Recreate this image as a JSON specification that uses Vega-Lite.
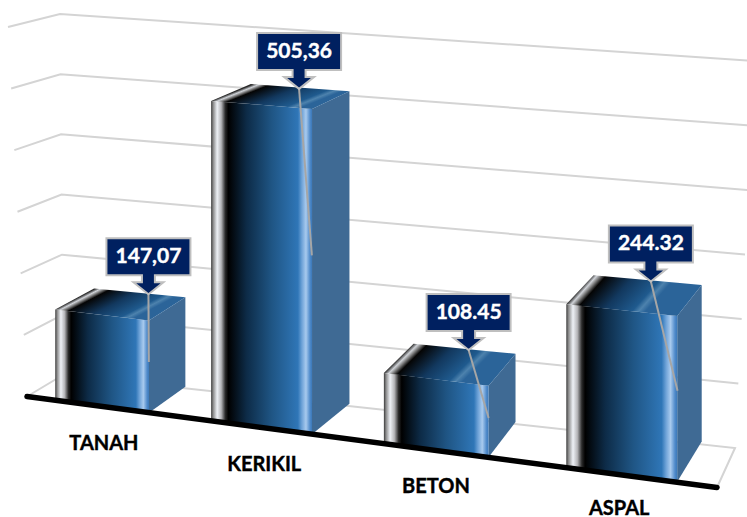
{
"$schema":"https://vega.github.io/schema/vega-lite/v6.json",
"width":747,"height":517,"padding":0,"autosize":{"type":"none"},"background":"white",
"config":{"view":{"stroke":null}},
"datasets":{
"bars":[
{"jenis":"TANAH","o":0,"value":147.07,"label":"147,07"},
{"jenis":"KERIKIL","o":1,"value":505.36,"label":"505,36"},
{"jenis":"BETON","o":2,"value":108.45,"label":"108.45"},
{"jenis":"ASPAL","o":3,"value":244.32,"label":"244.32"}],
"levels":[{"level":0},{"level":100},{"level":200},{"level":300},{"level":400},{"level":500},{"level":600}]
},
"encoding":{
"x":{"field":"px","type":"quantitative","scale":{"domain":[0,747],"nice":false,"zero":false},"axis":null},
"y":{"field":"py","type":"quantitative","scale":{"domain":[517,0],"nice":false,"zero":false},"axis":null}
},
"layer":[
{"data":{"name":"levels"},
 "transform":[
 {"calculate":"datum.level/600","as":"v"},
 {"calculate":"[0,1,2,3]","as":"w"},
 {"flatten":["w"]},
 {"filter":"datum.w<3||datum.level==0"},
 {"calculate":"[27-19*datum.v,63-3*datum.v,735+20*datum.v,717][datum.w]","as":"px"},
 {"calculate":"[396.5-369.5*datum.v,375-361*datum.v,448-387*datum.v,487.5][datum.w]","as":"py"}],
 "mark":{"type":"line","stroke":"#d4d4d4","strokeWidth":2,"clip":true},
 "encoding":{"detail":{"field":"level"},"order":{"field":"w"}}
},
{"data":{"name":"bars"},
 "transform":[
 {"calculate":"0.044+0.22*datum.o+0.0083*datum.o*datum.o","as":"u0"},
 {"calculate":"datum.u0+0.135+0.008*datum.o","as":"u1"},
 {"calculate":"datum.value/600","as":"v"},
 {"calculate":"27-19*datum.v+(690+37*datum.v)*datum.u0","as":"fx0"},
 {"calculate":"27-19*datum.v+(690+37*datum.v)*datum.u1","as":"fx1"},
 {"calculate":"396.5-369.5*datum.v+(91-40*datum.v)*datum.u0","as":"fy0"},
 {"calculate":"396.5-369.5*datum.v+(91-40*datum.v)*datum.u1","as":"fy1"},
 {"calculate":"datum.fx0+(63-3*datum.v+(672+23*datum.v)*datum.u0-datum.fx0)*1.05","as":"bx0"},
 {"calculate":"datum.fx1+(63-3*datum.v+(672+23*datum.v)*datum.u1-datum.fx1)*1.05","as":"bx1"},
 {"calculate":"datum.fy0+(375-361*datum.v+(73-26*datum.v)*datum.u0-datum.fy0)*1.05","as":"by0"},
 {"calculate":"datum.fy1+(375-361*datum.v+(73-26*datum.v)*datum.u1-datum.fy1)*1.05","as":"by1"},
 {"calculate":"27+690*datum.u0","as":"gx0"},
 {"calculate":"27+690*datum.u1","as":"gx1"},
 {"calculate":"396.5+91*datum.u0","as":"gy0"},
 {"calculate":"396.5+91*datum.u1","as":"gy1"},
 {"calculate":"datum.gx1+(63+672*datum.u1-datum.gx1)*1.05","as":"hx1"},
 {"calculate":"datum.gy1+(375+73*datum.u1-datum.gy1)*1.05","as":"hy1"},
 {"calculate":"datum.bx0+(datum.bx1-datum.bx0)*0.53+[6,-4,1,0][datum.o]","as":"tx"},
 {"calculate":"datum.by0+(datum.by1-datum.by0)*0.53+1","as":"ty"},
 {"calculate":"27-10.45*datum.v+(690+20.35*datum.v)*datum.u1","as":"lx"},
 {"calculate":"396.5-203.2*datum.v+(91-22*datum.v)*datum.u1","as":"ly"},
 {"calculate":"(datum.fx0+datum.gx0)/2","as":"fx0"},
 {"calculate":"(datum.fx1+datum.gx1)/2","as":"fx1"}
 ],
 "layer":[
 {"transform":[
  {"calculate":"[0,1]","as":"t"},{"flatten":["t"]},
  {"calculate":"[datum.fx1,datum.bx1][datum.t]","as":"px"},
  {"calculate":"[datum.fy1,datum.by1][datum.t]","as":"py"},
  {"calculate":"[datum.gy1,datum.hy1][datum.t]","as":"py2"}],
  "mark":{"type":"area","orient":"vertical","fill":"#3f6a94"},
  "encoding":{"y2":{"field":"py2"},"detail":{"field":"jenis"}}
 },
 {"transform":[
  {"calculate":"[0,1]","as":"t"},{"flatten":["t"]},
  {"calculate":"[datum.fx0,datum.fx1][datum.t]","as":"px"},
  {"calculate":"[datum.fy0,datum.fy1][datum.t]","as":"py"},
  {"calculate":"[datum.gy0,datum.gy1][datum.t]","as":"py2"}],
  "mark":{"type":"area","orient":"vertical","fill":{"gradient":"linear","x1":0,"y1":0,"x2":1,"y2":0,"stops":[
   {"offset":0,"color":"#3a3a3a"},{"offset":0.02,"color":"#8a8a8a"},{"offset":0.06,"color":"#eef1f6"},{"offset":0.1,"color":"#b5b5b8"},{"offset":0.14,"color":"#2a2a2a"},{"offset":0.17,"color":"#000000"},{"offset":0.35,"color":"#0d2b47"},{"offset":0.6,"color":"#1f5584"},{"offset":0.86,"color":"#2f76b7"},{"offset":0.9,"color":"#6fa3d8"},{"offset":0.94,"color":"#a8caee"},{"offset":0.98,"color":"#4f8aca"},{"offset":1,"color":"#3b78b8"}]}},
  "encoding":{"y2":{"field":"py2"},"detail":{"field":"jenis"}}
 },
 {"transform":[{"filter":"datum.o==0"},{"calculate":"[0,1,2,3]","as":"t"},{"flatten":["t"]},
  {"calculate":"[datum.fx0,datum.bx0,datum.fx1,datum.bx1][datum.t]","as":"px"},
  {"calculate":"[datum.fy0,datum.by0,datum.by0+(datum.by1-datum.by0)*(datum.fx1-datum.bx0)/(datum.bx1-datum.bx0),datum.by1][datum.t]","as":"py"},
  {"calculate":"[datum.fy0,datum.fy0+(datum.fy1-datum.fy0)*(datum.bx0-datum.fx0)/(datum.fx1-datum.fx0),datum.fy1,datum.by1][datum.t]","as":"py2"}],
  "mark":{"type":"area","orient":"vertical","fill":{"gradient":"linear","x1":0,"y1":0.656,"x2":0.6,"y2":0.94,"stops":[
   {"offset":0,"color":"#2a2a2a"},{"offset":0.06,"color":"#d0d3d8"},{"offset":0.11,"color":"#777777"},{"offset":0.17,"color":"#050505"},{"offset":0.5,"color":"#12385e"},{"offset":0.84,"color":"#1f5a8e"},{"offset":0.92,"color":"#4d82ad"},{"offset":1,"color":"#2b6499"}]}},
  "encoding":{"y2":{"field":"py2"}}
 },
 {"transform":[{"filter":"datum.o==1"},{"calculate":"[0,1,2,3]","as":"t"},{"flatten":["t"]},
  {"calculate":"[datum.fx0,datum.bx0,datum.fx1,datum.bx1][datum.t]","as":"px"},
  {"calculate":"[datum.fy0,datum.by0,datum.by0+(datum.by1-datum.by0)*(datum.fx1-datum.bx0)/(datum.bx1-datum.bx0),datum.by1][datum.t]","as":"py"},
  {"calculate":"[datum.fy0,datum.fy0+(datum.fy1-datum.fy0)*(datum.bx0-datum.fx0)/(datum.fx1-datum.fx0),datum.fy1,datum.by1][datum.t]","as":"py2"}],
  "mark":{"type":"area","orient":"vertical","fill":{"gradient":"linear","x1":0,"y1":0.679,"x2":0.638,"y2":0.967,"stops":[
   {"offset":0,"color":"#2a2a2a"},{"offset":0.06,"color":"#d0d3d8"},{"offset":0.11,"color":"#777777"},{"offset":0.17,"color":"#050505"},{"offset":0.5,"color":"#12385e"},{"offset":0.84,"color":"#1f5a8e"},{"offset":0.92,"color":"#4d82ad"},{"offset":1,"color":"#2b6499"}]}},
  "encoding":{"y2":{"field":"py2"}}
 },
 {"transform":[{"filter":"datum.o==2"},{"calculate":"[0,1,2,3]","as":"t"},{"flatten":["t"]},
  {"calculate":"[datum.fx0,datum.bx0,datum.fx1,datum.bx1][datum.t]","as":"px"},
  {"calculate":"[datum.fy0,datum.by0,datum.by0+(datum.by1-datum.by0)*(datum.fx1-datum.bx0)/(datum.bx1-datum.bx0),datum.by1][datum.t]","as":"py"},
  {"calculate":"[datum.fy0,datum.fy0+(datum.fy1-datum.fy0)*(datum.bx0-datum.fx0)/(datum.fx1-datum.fx0),datum.fy1,datum.by1][datum.t]","as":"py2"}],
  "mark":{"type":"area","orient":"vertical","fill":{"gradient":"linear","x1":0,"y1":0.698,"x2":0.6,"y2":0.891,"stops":[
   {"offset":0,"color":"#2a2a2a"},{"offset":0.06,"color":"#d0d3d8"},{"offset":0.11,"color":"#777777"},{"offset":0.17,"color":"#050505"},{"offset":0.5,"color":"#12385e"},{"offset":0.84,"color":"#1f5a8e"},{"offset":0.92,"color":"#4d82ad"},{"offset":1,"color":"#2b6499"}]}},
  "encoding":{"y2":{"field":"py2"}}
 },
 {"transform":[{"filter":"datum.o==3"},{"calculate":"[0,1,2,3]","as":"t"},{"flatten":["t"]},
  {"calculate":"[datum.fx0,datum.bx0,datum.fx1,datum.bx1][datum.t]","as":"px"},
  {"calculate":"[datum.fy0,datum.by0,datum.by0+(datum.by1-datum.by0)*(datum.fx1-datum.bx0)/(datum.bx1-datum.bx0),datum.by1][datum.t]","as":"py"},
  {"calculate":"[datum.fy0,datum.fy0+(datum.fy1-datum.fy0)*(datum.bx0-datum.fx0)/(datum.fx1-datum.fx0),datum.fy1,datum.by1][datum.t]","as":"py2"}],
  "mark":{"type":"area","orient":"vertical","fill":{"gradient":"linear","x1":0,"y1":0.71,"x2":0.589,"y2":0.868,"stops":[
   {"offset":0,"color":"#2a2a2a"},{"offset":0.06,"color":"#d0d3d8"},{"offset":0.11,"color":"#777777"},{"offset":0.17,"color":"#050505"},{"offset":0.5,"color":"#12385e"},{"offset":0.84,"color":"#1f5a8e"},{"offset":0.92,"color":"#4d82ad"},{"offset":1,"color":"#2b6499"}]}},
  "encoding":{"y2":{"field":"py2"}}
 },
 {"transform":[{"calculate":"datum.tx","as":"px"},{"calculate":"datum.ty","as":"py"}],
  "mark":{"type":"rule","stroke":"#a6a6a6","strokeWidth":2},
  "encoding":{"x2":{"field":"lx"},"y2":{"field":"ly"}}
 },
 {"transform":[{"calculate":"datum.tx","as":"px"},{"calculate":"datum.ty","as":"py"}],
  "mark":{"type":"point","filled":true,"fill":"#002060","fillOpacity":1,"stroke":"#bfbfbf","strokeWidth":2,"strokeOpacity":1,"opacity":1,"size":14400,
   "shape":"M-0.7,-0.933 H0.7 V-0.317 H0.108 V-0.2 H0.25 L0,0 L-0.25,-0.2 H-0.108 V-0.317 H-0.7 Z"}
 },
 {"transform":[{"calculate":"datum.tx","as":"px"},{"calculate":"datum.ty","as":"py"}],
  "mark":{"type":"text","font":"Lato","fontWeight":"bold","fontSize":21,"color":"#ffffff","stroke":"#ffffff","strokeWidth":0.4,"dy":-37,"align":"center","baseline":"middle"},
  "encoding":{"text":{"field":"label"}}
 },
 {"transform":[{"calculate":"(datum.gx0+datum.gx1)/2","as":"px"},{"calculate":"(datum.gy0+datum.gy1)/2-(datum.o==3?3:0)","as":"py"}],
  "mark":{"type":"text","font":"Lato","fontWeight":"bold","fontSize":20,"color":"#000000","stroke":"#000000","strokeWidth":0.4,"dy":37,"align":"center","baseline":"middle"},
  "encoding":{"text":{"field":"jenis"}}
 }
 ]
},
{"data":{"name":"levels"},
 "transform":[{"filter":"datum.level<=100"},
  {"calculate":"datum.level==0?27:717","as":"px"},
  {"calculate":"datum.level==0?396.5:487.5","as":"py"}],
 "mark":{"type":"line","stroke":"#000000","strokeWidth":5.5,"strokeCap":"round"},
 "encoding":{"order":{"field":"px"}}
}
]
}
